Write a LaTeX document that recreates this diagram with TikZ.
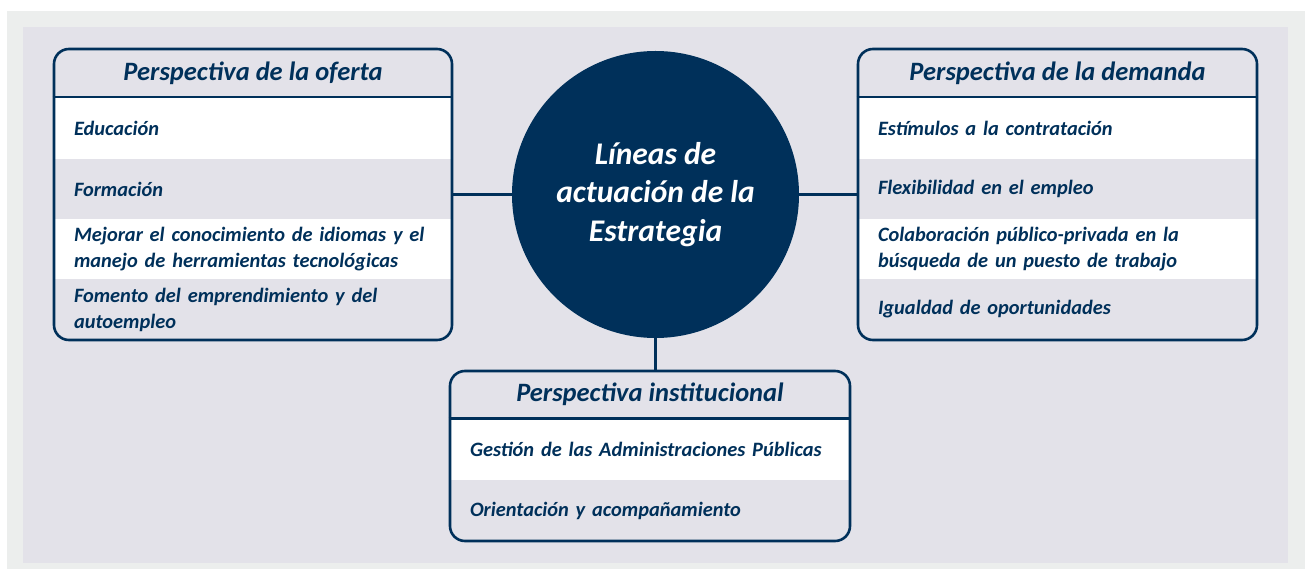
\documentclass[tikz,border=0pt]{standalone}
\usepackage{fontspec}
\setmainfont{Carlito}
\definecolor{navy}{HTML}{00305A}
\definecolor{panelgray}{HTML}{E3E2E9}
\definecolor{outergray}{HTML}{ECEEED}
\begin{document}
\begin{tikzpicture}[x=1pt,y=-1pt,
  frame/.style={draw=navy, line width=2.6pt, rounded corners=15pt, inner sep=0pt},
  rowbox/.style={inner xsep=20pt, inner ysep=0pt, text width=#1, align=left,
    font=\fontsize{20.4}{26}\selectfont\bfseries\itshape, text=navy},
  rowbox/.default=358pt,
  whiterow/.style={rowbox=#1, fill=white},
  whiterow/.default=358pt,
  grayrow/.style={rowbox=#1, fill=panelgray},
  grayrow/.default=358pt,
  titlebox/.style={inner sep=0pt, font=\fontsize{26.5}{30}\selectfont\bfseries\itshape, text=navy},
  link/.style={draw=navy, line width=2.6pt}
]
\useasboundingbox (0,0) rectangle (1309,569);
\fill[white] (0,0) rectangle (1309,569);
\fill[outergray] (7,11) rectangle (1305,569);
\fill[panelgray] (23,27) rectangle (1288,563);

% Left box: Perspectiva de la oferta (x 54..452)
\node[whiterow, minimum height=62pt] (o1) at (253,128) {Educación};
\node[grayrow, minimum height=60pt] (o2) at (253,189) {Formación};
\node[whiterow, minimum height=60pt] (o3) at (253,249) {Mejorar el conocimiento de idiomas y el\\manejo de herramientas tecnológicas};
\node[grayrow, minimum height=61pt] (o4) at (253,309.5) {Fomento del emprendimiento y del\\autoempleo};
\node[titlebox, minimum width=398pt, minimum height=48pt] (ot) at (253,73) {Perspectiva de la oferta};
\node[frame, minimum width=398pt, minimum height=291pt] (oferta) at (253,194.5) {};
\draw[link] (oferta.west |- ot.south) -- (oferta.east |- ot.south);

% Right box: Perspectiva de la demanda (x 858..1257)
\node[whiterow=359pt, minimum height=62pt] (d1) at (1057.5,128) {Estímulos a la contratación};
\node[grayrow=359pt, minimum height=60pt] (d2) at (1057.5,189) {Flexibilidad en el empleo};
\node[whiterow=359pt, minimum height=60pt] (d3) at (1057.5,249) {Colaboración público-privada en la\\búsqueda de un puesto de trabajo};
\node[grayrow=359pt, minimum height=61pt] (d4) at (1057.5,309.5) {Igualdad de oportunidades};
\node[titlebox, minimum width=399pt, minimum height=48pt] (dt) at (1057.5,73) {Perspectiva de la demanda};
\node[frame, minimum width=399pt, minimum height=291pt] (demanda) at (1057.5,194.5) {};
\draw[link] (demanda.west |- dt.south) -- (demanda.east |- dt.south);

% Bottom box: Perspectiva institucional (x 450..850)
\node[whiterow=360pt, minimum height=62pt] (i1) at (650,449) {Gestión de las Administraciones Públicas};
\node[grayrow=360pt, minimum height=61pt] (i2) at (650,510.5) {Orientación y acompañamiento};
\node[titlebox, minimum width=400pt, minimum height=47pt] (it) at (650,394.5) {Perspectiva institucional};
\node[frame, minimum width=400pt, minimum height=170pt] (inst) at (650,456) {};
\draw[link] (inst.west |- it.south) -- (inst.east |- it.south);

% Central circle
\node[circle, fill=navy, minimum size=287pt, inner sep=0pt, text=white, align=center,
  font=\fontsize{31.5}{38.5}\selectfont\bfseries\itshape] (c) at (655.5,194.5)
  {Líneas de\\actuación de la\\Estrategia};

% Connectors
\draw[link] (oferta.east) -- (c.west);
\draw[link] (c.east) -- (demanda.west);
\draw[link] (c.south) -- (c.south |- inst.north);
\end{tikzpicture}
\end{document}
